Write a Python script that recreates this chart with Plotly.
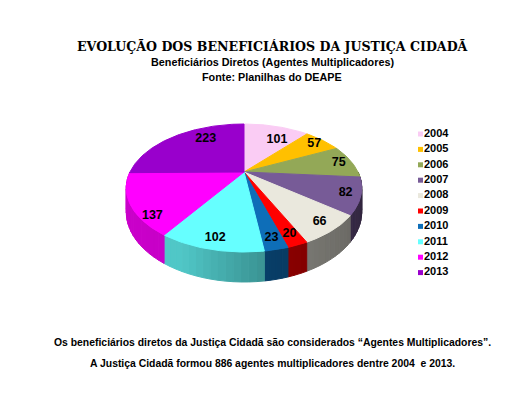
import numpy as np
import plotly.graph_objects as go

anos = ["2004", "2005", "2006", "2007", "2008", "2009", "2010", "2011", "2012", "2013"]
beneficiarios = [101, 57, 75, 82, 66, 20, 23, 102, 137, 223]
cores = ["#FACCF4", "#FFC000", "#93A857", "#775B97", "#EAE8DD",
         "#FF0000", "#0E6EB8", "#66FFFF", "#FF00FF", "#9900CC"]

titulo = "EVOLUÇÃO DOS BENEFICIÁRIOS DA JUSTIÇA CIDADÃ"
subtitulo = "Beneficiários Diretos (Agentes Multiplicadores)"
fonte = "Fonte: Planilhas do DEAPE"
nota1 = "Os beneficiários diretos da Justiça Cidadã são considerados “Agentes Multiplicadores”."
nota2 = "A Justiça Cidadã formou {} agentes multiplicadores dentre 2004  e 2013."

W, H = 526, 402
PAGE_MARGIN = 8   # the html body margin, so axes units equal window pixels

# 3d pie geometry, in window pixels
CX, CY = 244, 172
RX, RY = 114, 60
K = 0.25        # perspective
DEPTH = 22.5
LABEL_R = 0.88
label_fix = {"2013": (0.75, -14), "2012": (0.92, 14), "2004": (0.70, -8)}

SANS = "Liberation Sans, Arial, sans-serif"


def rim(t, r=1.0, drop=0.0):
    t = np.radians(t)
    s = r * np.sin(t)
    w = 1 + K * s
    return CX + RX * r * np.cos(t) / w, CY + (drop - RY * s) / w


def shade(hexcol, f):
    rgb = [int(hexcol[i:i + 2], 16) for i in (1, 3, 5)]
    return "rgb({},{},{})".format(*[int(round(c * f)) for c in rgb])


def side_factor(t):
    a = t % 360
    return np.interp(a, [180, 245, 280, 300, 330, 360], [0.80, 0.78, 0.56, 0.50, 0.44, 0.36])


total = sum(beneficiarios)
cum = np.concatenate([[0], np.cumsum(beneficiarios)])
t0 = 90 - 360 * cum[:-1] / total
t1 = 90 - 360 * cum[1:] / total

fig = go.Figure()

# side walls (front half only)
for i in range(len(anos)):
    hi, lo = min(t0[i], 0), max(t1[i], -180)
    if hi <= lo:
        continue
    n = max(1, int(np.ceil((hi - lo) / 3)))
    edges = np.linspace(hi, lo, n + 1)
    for a, b in zip(edges[:-1], edges[1:]):
        ta = np.linspace(a, b, 4)
        xt, yt = rim(ta)
        xb, yb = rim(ta[::-1], drop=DEPTH)
        col = shade(cores[i], side_factor((a + b) / 2))
        fig.add_trace(go.Scatter(
            x=np.concatenate([xt, xb, xt[:1]]), y=np.concatenate([yt, yb, yt[:1]]),
            mode="lines", fill="toself", fillcolor=col,
            line=dict(color=col, width=1), hoverinfo="skip", showlegend=False))

# top face
for i in range(len(anos)):
    ts = np.linspace(t0[i], t1[i], max(3, int(abs(t0[i] - t1[i])) + 1))
    xr, yr = rim(ts)
    fig.add_trace(go.Scatter(
        x=np.concatenate([[CX], xr, [CX]]), y=np.concatenate([[CY], yr, [CY]]),
        mode="lines", fill="toself", fillcolor=cores[i],
        line=dict(color=cores[i], width=1), hoverinfo="skip", showlegend=False))

# value labels
lx, ly = [], []
for i, ano in enumerate(anos):
    r, dt = label_fix.get(ano, (LABEL_R, 0))
    x, y = rim((t0[i] + t1[i]) / 2 + dt, r=r)
    lx.append(x)
    ly.append(y)
fig.add_trace(go.Scatter(
    x=lx, y=ly, mode="text", text=[str(v) for v in beneficiarios],
    textfont=dict(family=SANS, size=12.5, color="black", weight="bold"),
    hoverinfo="skip", showlegend=False))

# legend
leg_y = [134 + 15.4 * i for i in range(len(anos))]
fig.add_trace(go.Scatter(
    x=[420.5] * len(anos), y=leg_y, mode="markers",
    marker=dict(symbol="square", size=5, color=cores, line=dict(width=0)),
    hoverinfo="skip", showlegend=False))
fig.add_trace(go.Scatter(
    x=[424] * len(anos), y=leg_y, mode="text", text=anos, textposition="middle right",
    textfont=dict(family=SANS, size=11, color="black", weight="bold"),
    hoverinfo="skip", showlegend=False))

textos = [
    (titulo, 46, dict(family="DejaVu Serif, serif", size=12.6, color="black")),
    (subtitulo, 62, dict(family=SANS, size=10.8, color="black")),
    (fonte, 77, dict(family=SANS, size=10.8, color="black")),
    (nota1, 342, dict(family=SANS, size=10.4, color="black")),
    (nota2.format(total), 363, dict(family=SANS, size=10.4, color="black")),
]
for txt, y, f in textos:
    fig.add_annotation(x=272, y=y, xref="x", yref="y", text="<b>" + txt + "</b>",
                       showarrow=False, xanchor="center", yanchor="middle", font=f)

fig.update_layout(
    width=W, height=H, autosize=False,
    margin=dict(l=0, r=0, t=0, b=0),
    paper_bgcolor="white", plot_bgcolor="white",
    xaxis=dict(range=[PAGE_MARGIN, W + PAGE_MARGIN], visible=False, fixedrange=True),
    yaxis=dict(range=[H + PAGE_MARGIN, PAGE_MARGIN], visible=False, fixedrange=True),
)

fig.write_html("out.html")
